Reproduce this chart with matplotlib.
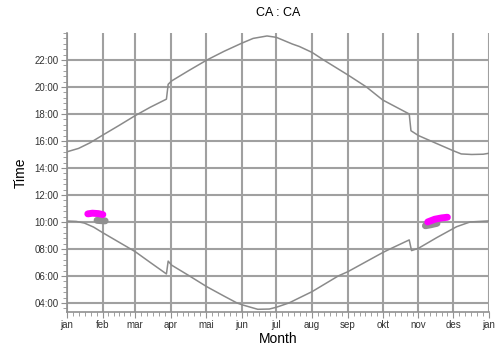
import numpy as np
import matplotlib.pyplot as plt

plt.rcParams['font.family'] = ['Liberation Sans', 'DejaVu Sans']

# month names (norwegian) and start day of each month
months = ["jan", "feb", "mar", "apr", "mai", "jun", "jul",
          "aug", "sep", "okt", "nov", "des", "jan"]
month_start = [0, 31, 59, 90, 120, 151, 181, 212, 243, 273, 304, 334, 365]

# sunset (hours)
sunset_day = [0, 10, 20, 31, 45, 59, 72, 86, 87.5, 90.5, 105, 121, 136,
              151, 161, 173, 181, 195, 201, 212, 222, 243, 259, 273,
              296, 297.5, 304, 320, 334, 341, 350, 360, 365]
sunset_time = [15.2, 15.45, 15.87, 16.44, 17.15, 17.88, 18.5, 19.1, 20.2,
               20.45, 21.2, 22.0, 22.65, 23.24, 23.6, 23.78, 23.68, 23.18,
               23.0, 22.56, 22.0, 20.89, 20.0, 19.04, 18.0, 16.76, 16.4,
               15.8, 15.28, 15.04, 15.0, 15.02, 15.09]

# sunrise (hours)
sunrise_day = [0, 8, 15, 23, 31, 45, 59, 72, 86, 87.5, 90.5, 105, 121, 136,
               147, 152, 165, 175, 181, 192, 201, 212, 234.6, 243, 273,
               279.4, 296, 298, 304, 320, 337, 348.6, 365]
sunrise_time = [10.07, 10.04, 9.92, 9.62, 9.2, 8.5, 7.8, 7.0, 6.15, 7.1, 6.8,
                6.05, 5.2, 4.5, 4.0, 3.85, 3.53, 3.55, 3.68, 4.0, 4.38, 4.84,
                6.0, 6.32, 7.73, 8.0, 8.67, 7.88, 8.05, 8.85, 9.65, 10.0,
                10.08]

# observation blobs
obs1_day = [18, 22, 27, 31]
obs1_time = [10.6, 10.65, 10.62, 10.55]
obs1b_day = [26, 29, 33]
obs1b_time = [10.12, 10.1, 10.08]
obs2_day = [312, 318, 324, 329]
obs2_time = [10.0, 10.2, 10.3, 10.35]
obs2b_day = [310, 315, 320]
obs2b_time = [9.72, 9.8, 9.9]

fig = plt.figure(figsize=(4.95, 3.51), dpi=100)
ax = fig.add_axes([67 / 495, 1 - 312 / 351, 422 / 495, 279 / 351])

ax.plot(sunset_day, sunset_time, color='#8a8a8a', lw=1.1)
ax.plot(sunrise_day, sunrise_time, color='#8a8a8a', lw=1.1)
ax.plot(obs1b_day, obs1b_time, color='#909090', lw=5, solid_capstyle='round')
ax.plot(obs1_day, obs1_time, color='#ff00ff', lw=5, solid_capstyle='round')
ax.plot(obs2b_day, obs2b_time, color='#909090', lw=5, solid_capstyle='round')
ax.plot(obs2_day, obs2_time, color='#ff00ff', lw=5, solid_capstyle='round')

ax.set_xlim(0, 365)
ax.set_ylim(3.33, 24)

ax.set_xticks(month_start)
ax.set_xticklabels(months)
minor_x = []
for i in range(12):
    a, b = month_start[i], month_start[i + 1]
    minor_x += [a + (b - a) * k / 6 for k in range(1, 6)]
ax.set_xticks(minor_x, minor=True)

hours = list(range(4, 24, 2))
ax.set_yticks(hours)
ax.set_yticklabels(["%02d:00" % h for h in hours])
ax.set_yticks(np.arange(3.6, 24.01, 0.4), minor=True)

ax.grid(True, which='major', color='#a0a0a0', lw=1.5)
for s in ['top', 'right']:
    ax.spines[s].set_visible(False)
for s in ['left', 'bottom']:
    ax.spines[s].set_color('#909090')
    ax.spines[s].set_linewidth(1.2)

ax.tick_params(which='major', length=4, color='#909090', labelsize=7,
               labelcolor='#333333', pad=2)
ax.tick_params(which='minor', length=3, color='#909090')

ax.set_title("CA : CA", fontsize=9, pad=12)
ax.set_xlabel("Month", fontsize=10, labelpad=1)
ax.set_ylabel("Time", fontsize=10, labelpad=5)

fig.savefig("out.png", dpi=100)
